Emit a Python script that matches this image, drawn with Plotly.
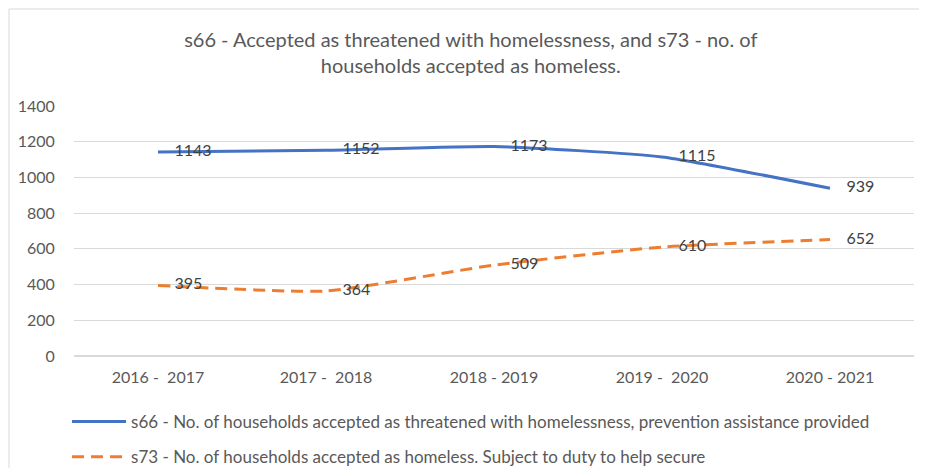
import plotly.graph_objects as go

years = ['2016 -  2017', '2017 -  2018', '2018 - 2019', '2019 -  2020', '2020 - 2021']
s66 = [1143, 1152, 1173, 1115, 939]
s73 = [395, 364, 509, 610, 652]

s66_name = 's66 - No. of households accepted as threatened with homelessness, prevention assistance provided'
s73_name = 's73 - No. of households accepted as homeless. Subject to duty to help secure'

FONT = 'Lato, Roboto, Arial, sans-serif'

fig = go.Figure()
fig.add_trace(go.Scatter(
    x=years, y=s66, name=s66_name, mode='lines+text', legendgroup='s66',
    line=dict(color='#4472C4', width=3, shape='spline', smoothing=0.5),
    text=['    ' + str(v) for v in s66], textposition='middle right',
    textfont=dict(color='#404040', size=16, family=FONT),
))
fig.add_trace(go.Scatter(
    x=years, y=s73, name=s73_name, mode='lines+text', legendgroup='s73',
    line=dict(color='#ED7D31', width=3, dash='12px,7px', shape='spline', smoothing=0.5),
    text=['    ' + str(v) for v in s73], textposition='middle right',
    textfont=dict(color='#404040', size=16, family=FONT),
))

# page body has an 8px margin, so the figure is 16px smaller than the window
fig.update_layout(
    width=911, height=460,
    margin=dict(l=66, r=5, t=98, b=112, autoexpand=False),
    paper_bgcolor='white', plot_bgcolor='white',
    font=dict(family=FONT, color='#595959', size=16),
    title=dict(
        text='s66 - Accepted as threatened with homelessness, and s73 - no. of<br>households accepted as homeless.',
        x=0.508, xanchor='center', y=0.915, yanchor='top',
        font=dict(size=20, color='#595959', family=FONT),
    ),
    xaxis=dict(showgrid=False, showline=False, ticks='outside', ticklen=7,
               tickcolor='rgba(0,0,0,0)', tickfont=dict(size=16)),
    yaxis=dict(range=[0, 1400], dtick=200, gridcolor='#D9D9D9', gridwidth=1,
               zeroline=True, zerolinecolor='#D9D9D9', tickfont=dict(size=16),
               ticks='outside', ticklen=15, tickcolor='rgba(0,0,0,0)'),
    legend=dict(orientation='v', x=-0.0083, xanchor='left', y=-0.192, yanchor='top',
                font=dict(size=17, color='#595959'), tracegroupgap=10,
                itemwidth=54, bgcolor='rgba(0,0,0,0)'),
    showlegend=True,
)
fig.update_xaxes(range=[-0.5, 4.5])

# chart frame like the Excel border
fig.add_shape(type='rect', xref='paper', yref='paper',
              x0=-65 / 840, x1=1.1, y0=-0.6, y1=1.388,
              line=dict(color='#D9D9D9', width=1))

fig.write_html('out.html')
